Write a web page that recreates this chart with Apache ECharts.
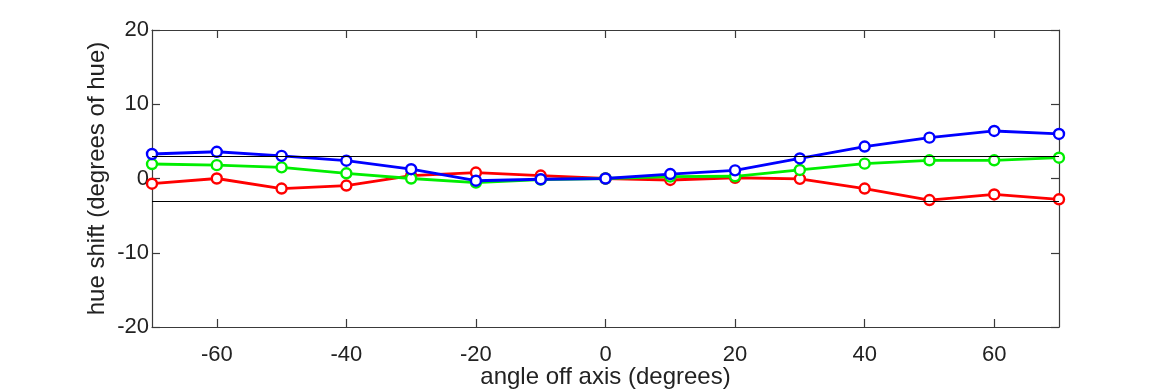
<!DOCTYPE html>
<html>
<head>
<meta charset="utf-8">
<script src="https://cdn.jsdelivr.net/npm/echarts@6/dist/echarts.min.js"></script>
<style>
html,body{margin:0;padding:0;background:#fff;}
#c{width:1170px;height:390px;}
</style>
</head>
<body>
<div id="c"></div>
<script>
const angles = [-70, -60, -50, -40, -30, -20, -10, 0, 10, 20, 30, 40, 50, 60, 70];
const redShift   = [-0.7, 0.0, -1.35, -0.95, 0.4, 0.8, 0.4, 0.0, -0.2, 0.1, -0.05, -1.35, -2.9, -2.15, -2.8];
const greenShift = [1.95, 1.8, 1.5, 0.7, 0.0, -0.55, -0.15, 0.0, 0.25, 0.3, 1.15, 2.0, 2.45, 2.45, 2.8];
const blueShift  = [3.3, 3.6, 3.05, 2.4, 1.25, -0.3, -0.1, 0.0, 0.6, 1.1, 2.7, 4.3, 5.5, 6.4, 6.0];
const xTicks = [-60, -40, -20, 0, 20, 40, 60];
const yTicks = [-20, -10, 0, 10, 20];
const limits = [3, -3];

const axisColor = '#3a3a3a';
const font = 'Liberation Sans, Arial, Helvetica, sans-serif';

function pairs(vals){ return angles.map((a,i)=>[a, vals[i]]); }
function lineSeries(name, color, vals, z){
  return {
    name, type:'line', data: pairs(vals), z,
    symbol:'circle', symbolSize:10, showSymbol:true,
    lineStyle:{color, width:2.8},
    itemStyle:{color:'#fff', borderColor:color, borderWidth:2.4},
    emphasis:{disabled:true}, animation:false
  };
}

const chart = echarts.init(document.getElementById('c'), null, {renderer:'canvas'});
const baseX = {
  type:'value', min:-70, max:70,
  axisLine:{show:true, onZero:false, lineStyle:{color:axisColor, width:1.2}},
  splitLine:{show:false},
};
const baseY = {
  type:'value', min:-20, max:20, interval:10,
  axisLine:{show:true, onZero:false, lineStyle:{color:axisColor, width:1.2}},
  splitLine:{show:false},
};
chart.setOption({
  animation:false,
  backgroundColor:'#fff',
  grid:{left:152, right:111, top:30, bottom:63, containLabel:false, outerBoundsMode:'none'},
  xAxis:[
    Object.assign({}, baseX, {
      position:'bottom',
      name:'angle off axis (degrees)', nameLocation:'middle', nameGap:38, nameMoveOverlap:false,
      nameTextStyle:{color:'#222', fontSize:24, fontFamily:font},
      axisTick:{show:true, inside:true, length:8, customValues:xTicks, lineStyle:{color:axisColor, width:1.2}},
      axisLabel:{show:true, customValues:xTicks, color:'#222', fontSize:22, fontFamily:font, margin:17}
    }),
    Object.assign({}, baseX, {
      position:'top',
      axisTick:{show:true, inside:true, length:8, customValues:xTicks, lineStyle:{color:axisColor, width:1.2}},
      axisLabel:{show:false}
    })
  ],
  yAxis:[
    Object.assign({}, baseY, {
      position:'left',
      name:'hue shift (degrees of hue)', nameLocation:'middle', nameGap:43, nameMoveOverlap:false,
      nameTextStyle:{color:'#222', fontSize:24, fontFamily:font},
      axisTick:{show:true, inside:true, length:8, customValues:yTicks, lineStyle:{color:axisColor, width:1.2}},
      axisLabel:{show:true, customValues:yTicks, color:'#222', fontSize:22, fontFamily:font, margin:3}
    }),
    Object.assign({}, baseY, {
      position:'right',
      axisTick:{show:true, inside:true, length:8, customValues:yTicks, lineStyle:{color:axisColor, width:1.2}},
      axisLabel:{show:false}
    })
  ],
  series:[
    {
      type:'line', data:[], z:1,
      markLine:{
        silent:true, symbol:['none','none'], animation:false,
        label:{show:false},
        lineStyle:{color:'#000', width:1.2, type:'solid'},
        data: limits.map(v=>({yAxis:v}))
      }
    },
    lineSeries('red', '#ff0000', redShift, 2),
    lineSeries('green', '#00ee00', greenShift, 3),
    lineSeries('blue', '#0000ff', blueShift, 4)
  ]
});
</script>
</body>
</html>
